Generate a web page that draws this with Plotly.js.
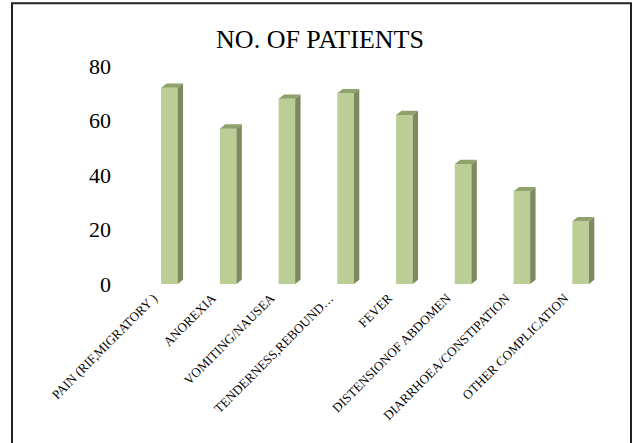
<!DOCTYPE html>
<html>
<head>
<meta charset="utf-8">
<script src="https://cdn.plot.ly/plotly-3.0.1.min.js"></script>
<style>
  html, body { margin: 0; padding: 0; background: #fff; }
  #chart { width: 633px; height: 443px; }
</style>
</head>
<body>
<div id="chart"></div>
<script>
// ---- data ----
const categories = [
  "PAIN (RIF,MIGRATORY )",
  "ANOREXIA",
  "VOMITING/NAUSEA",
  "TENDERNESS,REBOUND…",
  "FEVER",
  "DISTENSIONOF ABDOMEN",
  "DIARRHOEA/CONSTIPATION",
  "OTHER COMPLICATION"
];
const patients = [72, 57, 68, 70, 62, 44, 34, 23];
const yTicks = [0, 20, 40, 60, 80];
const chartTitle = "NO. OF PATIENTS";

// ---- style constants ----
const FONT = "Liberation Serif";
const W = 0.282;   // front face width (category units)
const DX = 0.092;  // depth offset x (category units)
const DY = 1.58;   // depth offset y (value units)
const FRONT = "#bbce95";
const SIDE = "#7c8b5e";
const TOP = "#8fa26e";

const idx = categories.map((_, i) => i);

// side faces and top faces derived from the values through the axes
const sideX = [], sideY = [], topX = [], topY = [];
idx.forEach(i => {
  const v = patients[i];
  const r = i + W / 2, l = i - W / 2;
  sideX.push(r, r + DX, r + DX, r, r, null);
  sideY.push(0, DY, v + DY, v, 0, null);
  topX.push(l, l + DX, r + DX, r, l, null);
  topY.push(v, v + DY, v + DY, v, v, null);
});

const traces = [
  {
    type: "bar", x: idx, y: patients, width: W,
    marker: { color: FRONT, line: { width: 0 } },
    hoverinfo: "x+y", showlegend: false
  },
  {
    type: "scatter", mode: "lines", x: sideX, y: sideY,
    fill: "toself", fillcolor: SIDE, line: { width: 0, color: SIDE },
    hoverinfo: "skip", showlegend: false
  },
  {
    type: "scatter", mode: "lines", x: topX, y: topY,
    fill: "toself", fillcolor: TOP, line: { width: 0, color: TOP },
    hoverinfo: "skip", showlegend: false
  }
];

const layout = {
  width: 633, height: 443,
  paper_bgcolor: "#ffffff", plot_bgcolor: "#ffffff",
  margin: { l: 140, r: 23, t: 66, b: 159 },
  font: { family: FONT, color: "#000" },
  title: {
    text: chartTitle,
    font: { family: FONT, size: 26, color: "#000" },
    xref: "container", yref: "container",
    x: 0.5055, xanchor: "center",
    y: 0.913, yanchor: "middle"
  },
  xaxis: {
    range: [-0.5, 7.5],
    tickmode: "array", tickvals: idx, ticktext: categories,
    tickangle: -45,
    tickfont: { family: FONT, size: 13, color: "#000" },
    showgrid: false, zeroline: false, showline: false, ticks: "",
    ticklabelshift: -16, ticklabelstandoff: 3,
    fixedrange: true
  },
  yaxis: {
    range: [0, 80],
    tickmode: "array", tickvals: yTicks,
    tickfont: { family: FONT, size: 22, color: "#000" },
    showgrid: false, zeroline: false, showline: false, ticks: "",
    ticklabelstandoff: 28,
    fixedrange: true
  },
  shapes: [
    {
      type: "rect", xref: "paper", yref: "paper",
      x0: -0.2723, x1: 1.0447, y0: -0.78, y1: 1.288,
      line: { color: "#222", width: 2 }, fillcolor: "rgba(0,0,0,0)"
    }
  ],
  showlegend: false
};

Plotly.newPlot("chart", traces, layout, { displayModeBar: false, staticPlot: true });
</script>
</body>
</html>
